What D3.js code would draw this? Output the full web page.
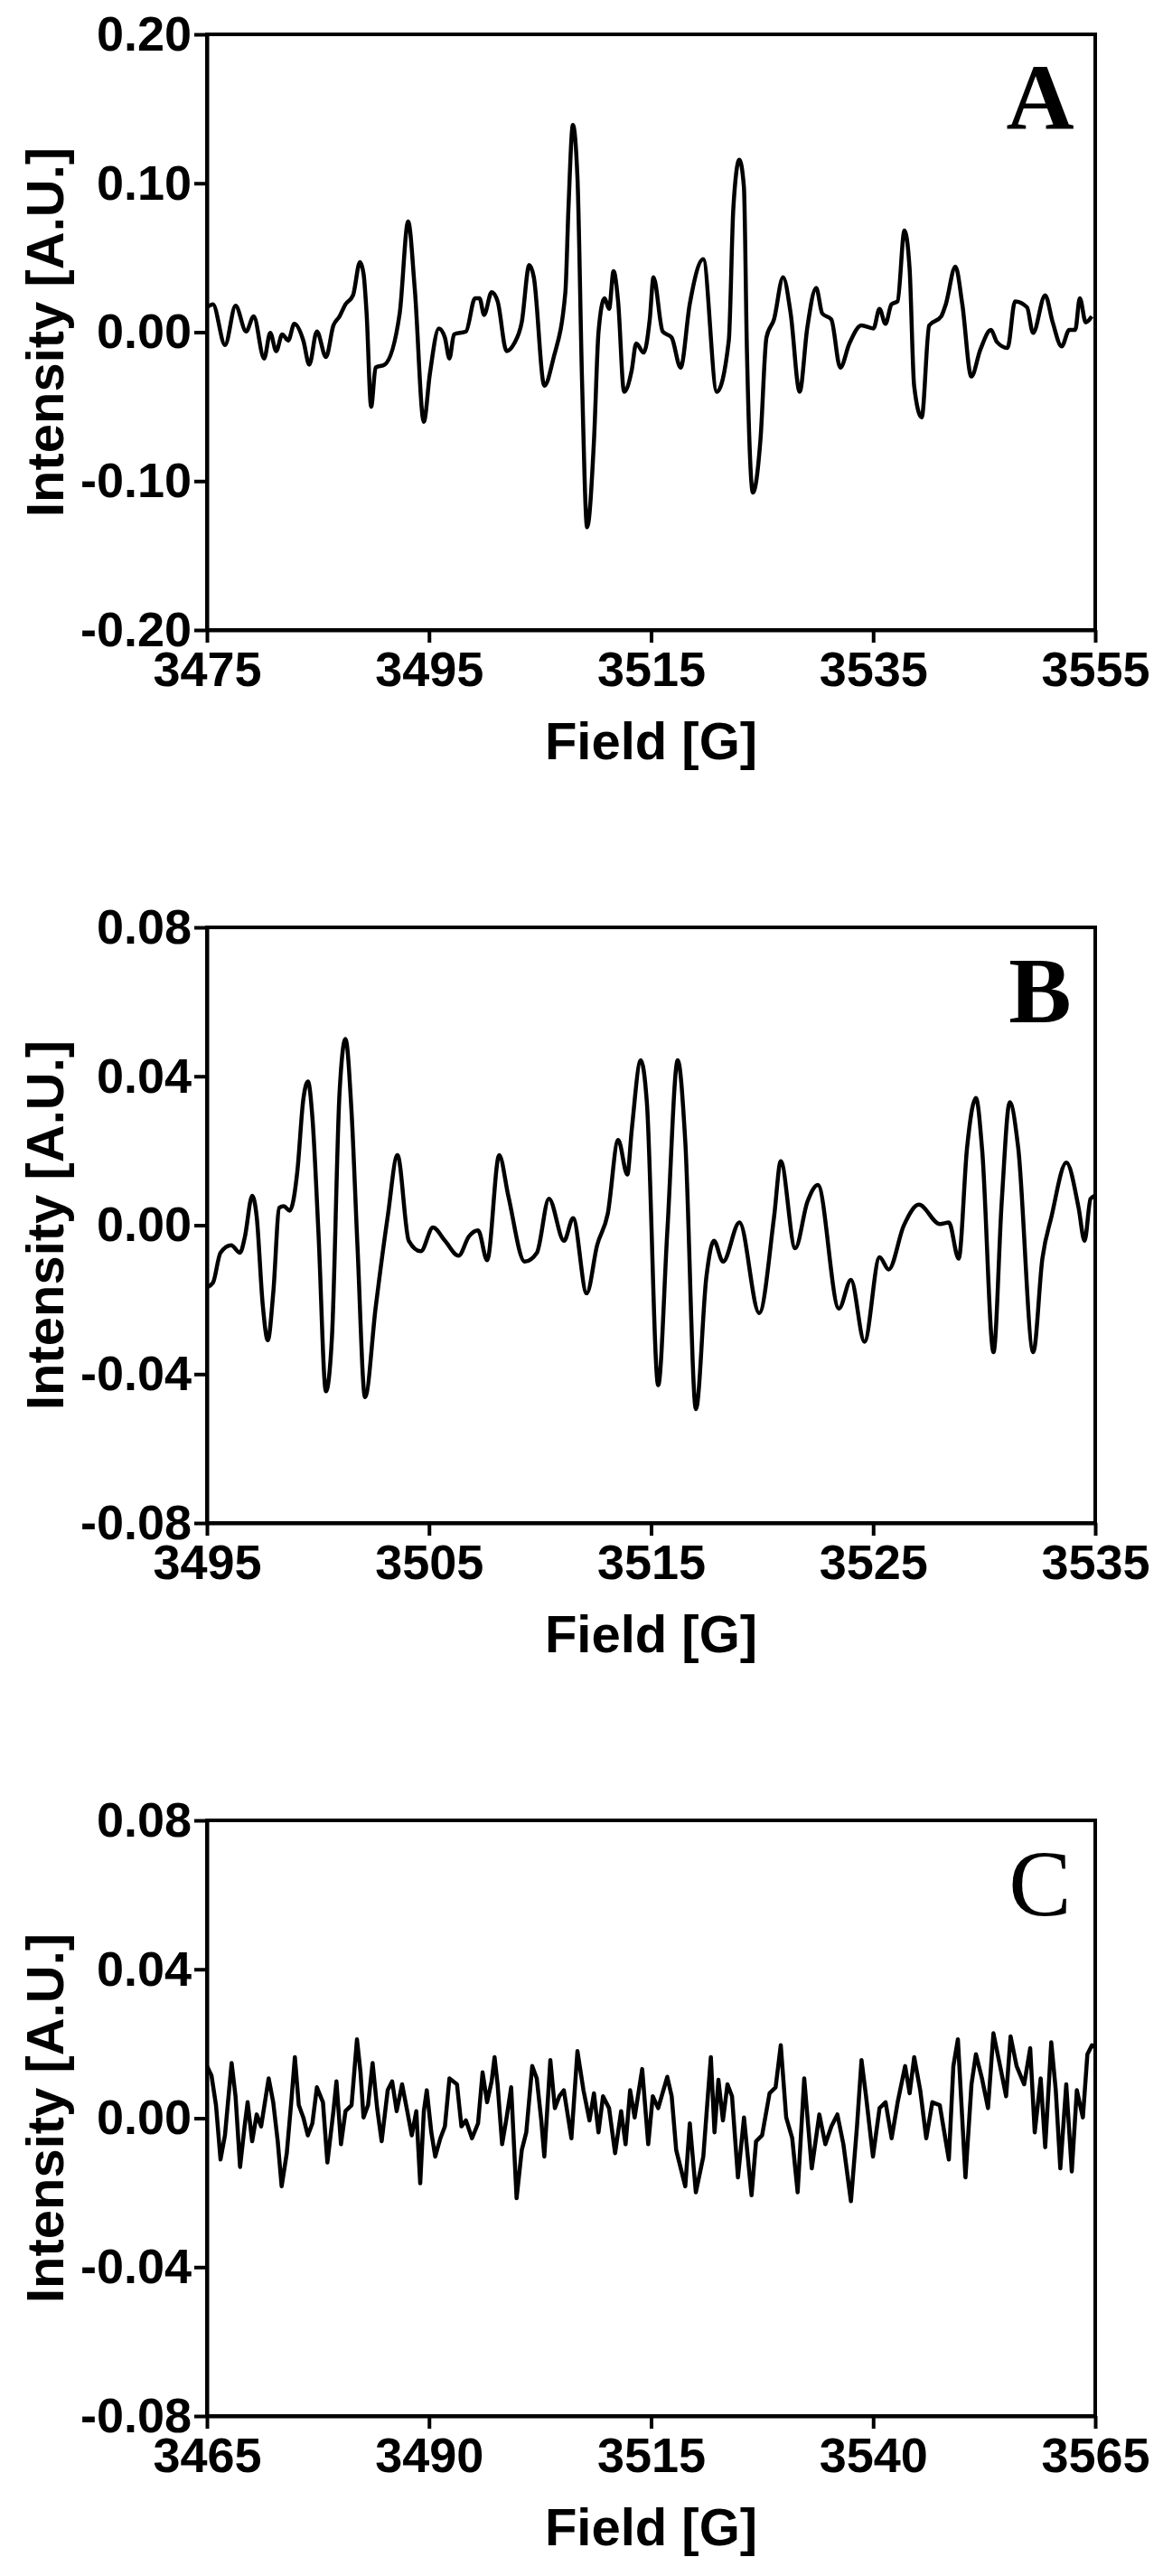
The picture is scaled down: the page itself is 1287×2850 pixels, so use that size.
<!DOCTYPE html>
<html><head><meta charset="utf-8">
<script src="https://cdn.jsdelivr.net/npm/d3@7"></script>
<style>body{margin:0;background:#fff}svg{display:block}</style>
</head><body>
<script>
// ---- Data ----
const fieldA = [3475.00,3475.54,3476.63,3477.58,3478.53,3479.21,3480.15,3480.70,3481.24,3481.78,3482.32,3482.87,3483.68,3484.22,3484.90,3485.72,3486.39,3486.94,3487.48,3488.16,3488.78,3489.11,3489.38,3489.79,3490.19,3491.01,3492.36,3493.12,3493.72,3494.53,3495.08,3495.89,3496.43,3496.84,3497.25,3498.33,3499.15,3499.55,3499.96,3500.64,3501.18,3501.99,3502.67,3503.35,3504.03,3504.44,3505.39,3506.20,3507.28,3507.56,3507.96,3508.37,3508.78,3509.24,3509.86,3510.27,3510.81,3511.22,3511.62,3512.03,3512.57,3513.25,3513.66,3514.34,3514.88,3515.22,3516.04,3516.85,3517.66,3518.48,3519.70,3520.92,3522.00,3522.41,3522.95,3523.36,3523.63,3524.17,3524.85,3525.39,3526.07,3526.89,3527.57,3528.38,3529.06,3529.87,3530.41,3531.23,3532.04,3532.86,3533.94,3535.03,3535.57,3536.11,3536.65,3537.20,3537.82,3538.28,3538.69,3539.37,3540.05,3541.13,3541.54,3542.41,3543.03,3543.84,3544.66,3545.61,3546.15,3547.10,3547.78,3548.86,3549.40,3550.49,3551.17,3551.98,3552.66,3553.20,3553.61,3554.15,3554.69];
const intensityA = [0.0167,0.0187,-0.0086,0.0177,0.0005,0.0106,-0.0177,-0.0005,-0.0127,-0.0015,-0.0056,0.0056,-0.0056,-0.0218,0.0005,-0.0167,0.0045,0.0106,0.0187,0.0248,0.0470,0.0389,0.0126,-0.0501,-0.0238,-0.0218,0.0126,0.0743,0.0288,-0.0602,-0.0278,0.0025,-0.0036,-0.0177,-0.0015,0.0005,0.0228,0.0228,0.0116,0.0268,0.0207,-0.0127,-0.0076,0.0066,0.0450,0.0369,-0.0359,-0.0177,0.0268,0.0834,0.1391,0.1037,-0.0319,-0.1310,-0.0723,0.0005,0.0228,0.0157,0.0410,0.0207,-0.0400,-0.0258,-0.0076,-0.0137,0.0086,0.0369,0.0005,-0.0036,-0.0238,0.0187,0.0490,-0.0400,-0.0056,0.0834,0.1158,0.0976,-0.0116,-0.1077,-0.0723,-0.0036,0.0086,0.0369,0.0126,-0.0400,0.0025,0.0298,0.0126,0.0086,-0.0238,-0.0076,0.0045,0.0025,0.0157,0.0056,0.0187,0.0207,0.0683,0.0430,-0.0359,-0.0572,0.0045,0.0106,0.0187,0.0440,0.0187,-0.0298,-0.0116,0.0015,-0.0066,-0.0106,0.0207,0.0167,-0.0005,0.0248,0.0066,-0.0096,0.0015,0.0015,0.0228,0.0066,0.0106];

const fieldB = [3495.00,3495.27,3495.61,3496.09,3496.49,3496.70,3497.04,3497.24,3497.51,3497.74,3497.99,3498.26,3498.46,3498.73,3499.07,3499.34,3499.55,3499.75,3500.02,3500.36,3500.63,3500.97,3501.24,3501.51,3501.78,3502.12,3502.60,3503.14,3503.58,3504.09,3504.63,3505.18,3505.72,3506.33,3506.80,3507.21,3507.62,3508.16,3508.57,3509.31,3509.86,3510.40,3511.08,3511.49,3512.10,3512.57,3513.05,3513.52,3513.93,3514.13,3514.54,3514.81,3515.32,3515.73,3516.20,3516.54,3517.02,3517.49,3517.83,3518.24,3518.98,3519.87,3520.54,3520.84,3521.49,3522.04,3522.51,3523.46,3524.00,3524.61,3525.29,3525.70,3526.38,3527.06,3528.01,3528.41,3528.85,3529.23,3529.63,3529.91,3530.42,3530.79,3531.15,3531.53,3532.21,3532.62,3533.03,3533.70,3534.25,3534.52,3534.79,3535.00];
const intensityB = [-0.0167,-0.0155,-0.0074,-0.0054,-0.0074,-0.0034,0.0079,0.0023,-0.0212,-0.0309,-0.0179,0.0047,0.0051,0.0039,0.0144,0.0338,0.0386,0.0289,-0.0018,-0.0446,-0.0300,0.0354,0.0500,0.0306,-0.0058,-0.0462,-0.0220,0.0023,0.0188,-0.0042,-0.0070,-0.0006,-0.0042,-0.0082,-0.0030,-0.0014,-0.0094,0.0188,0.0079,-0.0098,-0.0074,0.0071,-0.0042,0.0019,-0.0183,-0.0054,0.0031,0.0229,0.0136,0.0257,0.0443,0.0330,-0.0430,-0.0018,0.0443,0.0225,-0.0494,-0.0139,-0.0042,-0.0098,0.0007,-0.0236,0.0023,0.0172,-0.0062,0.0063,0.0108,-0.0224,-0.0147,-0.0313,-0.0086,-0.0119,-0.0001,0.0055,0.0003,0.0007,-0.0090,0.0209,0.0342,0.0201,-0.0341,0.0063,0.0330,0.0209,-0.0341,-0.0090,0.0023,0.0168,0.0047,-0.0042,0.0071,0.0080];

const fieldC = [3465.00,3465.51,3466.02,3466.53,3467.03,3467.37,3467.78,3468.22,3468.73,3469.24,3469.58,3470.09,3470.60,3471.10,3471.95,3472.46,3472.97,3473.41,3473.99,3474.49,3474.90,3475.34,3475.85,3476.36,3476.87,3477.38,3478.06,3478.56,3479.24,3479.58,3480.09,3480.60,3481.28,3481.89,3482.29,3482.63,3483.14,3483.65,3484.16,3484.67,3485.35,3485.85,3486.36,3486.97,3487.55,3488.06,3488.57,3489.01,3489.42,3489.75,3490.26,3490.70,3491.28,3491.79,3492.30,3493.15,3493.65,3494.16,3494.84,3495.52,3496.03,3496.54,3497.05,3497.38,3497.72,3498.23,3498.74,3499.25,3499.86,3500.44,3500.95,3501.62,3502.13,3502.64,3502.98,3503.66,3504.17,3504.67,3505.18,3506.03,3506.71,3507.39,3508.07,3508.57,3509.08,3509.59,3510.27,3510.95,3511.63,3512.13,3512.64,3513.15,3514.00,3514.68,3515.19,3515.80,3516.82,3517.32,3517.83,3518.85,3519.36,3520.04,3520.88,3521.39,3521.73,3522.14,3522.58,3523.09,3523.60,3524.11,3524.78,3525.46,3526.31,3526.82,3527.50,3528.34,3529.02,3529.60,3530.21,3530.89,3531.50,3532.24,3533.09,3533.94,3534.62,3535.30,3535.97,3536.65,3537.50,3538.18,3538.69,3539.20,3539.98,3540.72,3541.40,3542.08,3542.76,3543.60,3544.11,3544.62,3545.30,3545.98,3546.66,3547.50,3548.52,3549.03,3549.54,3550.39,3551.07,3551.57,3552.25,3552.93,3553.54,3554.29,3554.97,3555.47,3556.15,3557.00,3557.68,3558.19,3558.86,3559.37,3560.05,3560.56,3561.07,3561.74,3562.36,3562.93,3563.61,3564.12,3564.63,3565.00];
const intensityC = [0.0140,0.0115,0.0035,-0.0111,-0.0046,0.0043,0.0148,0.0059,-0.0131,-0.0022,0.0043,-0.0062,0.0010,-0.0022,0.0107,0.0043,-0.0062,-0.0183,-0.0094,0.0043,0.0164,0.0035,0.0002,-0.0046,-0.0014,0.0083,0.0043,-0.0119,0.0019,0.0099,-0.0070,0.0019,0.0035,0.0212,0.0123,0.0002,0.0035,0.0148,0.0027,-0.0062,0.0075,0.0099,0.0019,0.0091,0.0019,-0.0046,0.0019,-0.0175,0.0019,0.0075,-0.0038,-0.0103,-0.0054,-0.0022,0.0107,0.0091,-0.0022,-0.0006,-0.0054,-0.0014,0.0123,0.0043,0.0099,0.0164,0.0091,-0.0070,0.0002,0.0083,-0.0215,-0.0086,-0.0038,0.0140,0.0107,-0.0006,-0.0103,0.0156,0.0027,0.0059,0.0075,-0.0054,0.0180,0.0075,-0.0006,0.0067,-0.0038,0.0059,0.0027,-0.0094,0.0019,-0.0070,0.0075,0.0002,0.0132,-0.0070,0.0059,0.0027,0.0111,0.0059,-0.0086,-0.0183,-0.0014,-0.0199,-0.0103,0.0059,0.0164,-0.0038,0.0103,-0.0006,0.0091,0.0059,-0.0159,0.0002,-0.0207,-0.0062,-0.0046,0.0067,0.0083,0.0196,0.0002,-0.0054,-0.0199,0.0107,-0.0135,0.0010,-0.0070,-0.0022,0.0010,-0.0070,-0.0223,-0.0022,0.0156,0.0059,-0.0103,0.0027,0.0043,-0.0054,0.0043,0.0140,0.0067,0.0164,0.0075,-0.0054,0.0043,0.0035,-0.0111,0.0140,0.0212,-0.0159,0.0091,0.0172,0.0107,0.0027,0.0228,0.0140,0.0059,0.0220,0.0140,0.0091,0.0188,-0.0038,0.0107,-0.0078,0.0204,0.0075,-0.0135,0.0091,-0.0143,0.0075,0.0002,0.0172,0.0196,0.0190];

const panelLabels = ["A","B","C"];
const xTicksA = [3475,3495,3515,3535,3555];
const xTicksB = [3495,3505,3515,3525,3535];
const xTicksC = [3465,3490,3515,3540,3565];
const yTicksA = [-0.20,-0.10,0.00,0.10,0.20];
const yTicksBC = [-0.08,-0.04,0.00,0.04,0.08];

const panels = [
  {label:panelLabels[0], field:fieldA, val:intensityA, xd:[3475,3555], yd:[-0.2,0.2], xt:xTicksA, yt:yTicksA, top:38, bold:true, smooth:true},
  {label:panelLabels[1], field:fieldB, val:intensityB, xd:[3495,3535], yd:[-0.08,0.08], xt:xTicksB, yt:yTicksBC, top:1026, bold:true, smooth:true},
  {label:panelLabels[2], field:fieldC, val:intensityC, xd:[3465,3565], yd:[-0.08,0.08], xt:xTicksC, yt:yTicksBC, top:2014, bold:false, smooth:false}
];

const W=1287,H=2850, L=229, R=1212, PH=659;
const svg=d3.select("body").append("svg").attr("width",W).attr("height",H);
const sans="'Liberation Sans', Arial, sans-serif";
const yfmt = d => d3.format(".2f")(d).replace("\u2212","-");

panels.forEach(p=>{
  const g=svg.append("g").attr("transform",`translate(0,${p.top})`);
  const x=d3.scaleLinear().domain(p.xd).range([L,R]);
  const y=d3.scaleLinear().domain(p.yd).range([PH,0]);
  g.append("rect").attr("x",L).attr("y",0).attr("width",R-L).attr("height",PH)
    .attr("fill","none").attr("stroke","#000").attr("stroke-width",4);
  const xa=g.append("g").attr("transform",`translate(0,${PH})`)
    .call(d3.axisBottom(x).tickValues(p.xt).tickSize(14).tickSizeOuter(0).tickFormat(d3.format("d")));
  const ya=g.append("g").attr("transform",`translate(${L},0)`)
    .call(d3.axisLeft(y).tickValues(p.yt).tickSize(14).tickSizeOuter(0).tickFormat(yfmt));
  [xa,ya].forEach(a=>{
    a.select(".domain").attr("stroke","#000").attr("stroke-width",4);
    a.selectAll(".tick line").attr("stroke","#000").attr("stroke-width",4);
    a.selectAll(".tick text").attr("font-family",sans).attr("font-weight","bold")
      .attr("font-size",54).attr("fill","#000");
  });
  xa.selectAll(".tick text").attr("y",24);
  ya.selectAll(".tick text").attr("x",-17);
  const line=d3.line().x((d,i)=>x(p.field[i])).y(d=>y(d))
    .curve(p.smooth?d3.curveMonotoneX:d3.curveLinear);
  g.append("path").datum(p.val).attr("d",line).attr("fill","none")
    .attr("stroke","#000").attr("stroke-width",4.5).attr("stroke-linejoin","round");
  g.append("text").attr("x",(L+R)/2).attr("y",PH+143).attr("text-anchor","middle")
    .attr("font-family",sans).attr("font-weight","bold").attr("font-size",58).text("Field [G]");
  g.append("text").attr("transform",`translate(70,${PH/2}) rotate(-90)`).attr("text-anchor","middle")
    .attr("font-family",sans).attr("font-weight","bold").attr("font-size",58).text("Intensity [A.U.]");
  g.append("text").attr("x",1151).attr("y",105).attr("text-anchor","middle")
    .attr("font-family","'Liberation Serif', 'Times New Roman', serif")
    .attr("font-weight",p.bold?"bold":"normal").attr("font-size",104).text(p.label);
});
</script>
</body></html>
